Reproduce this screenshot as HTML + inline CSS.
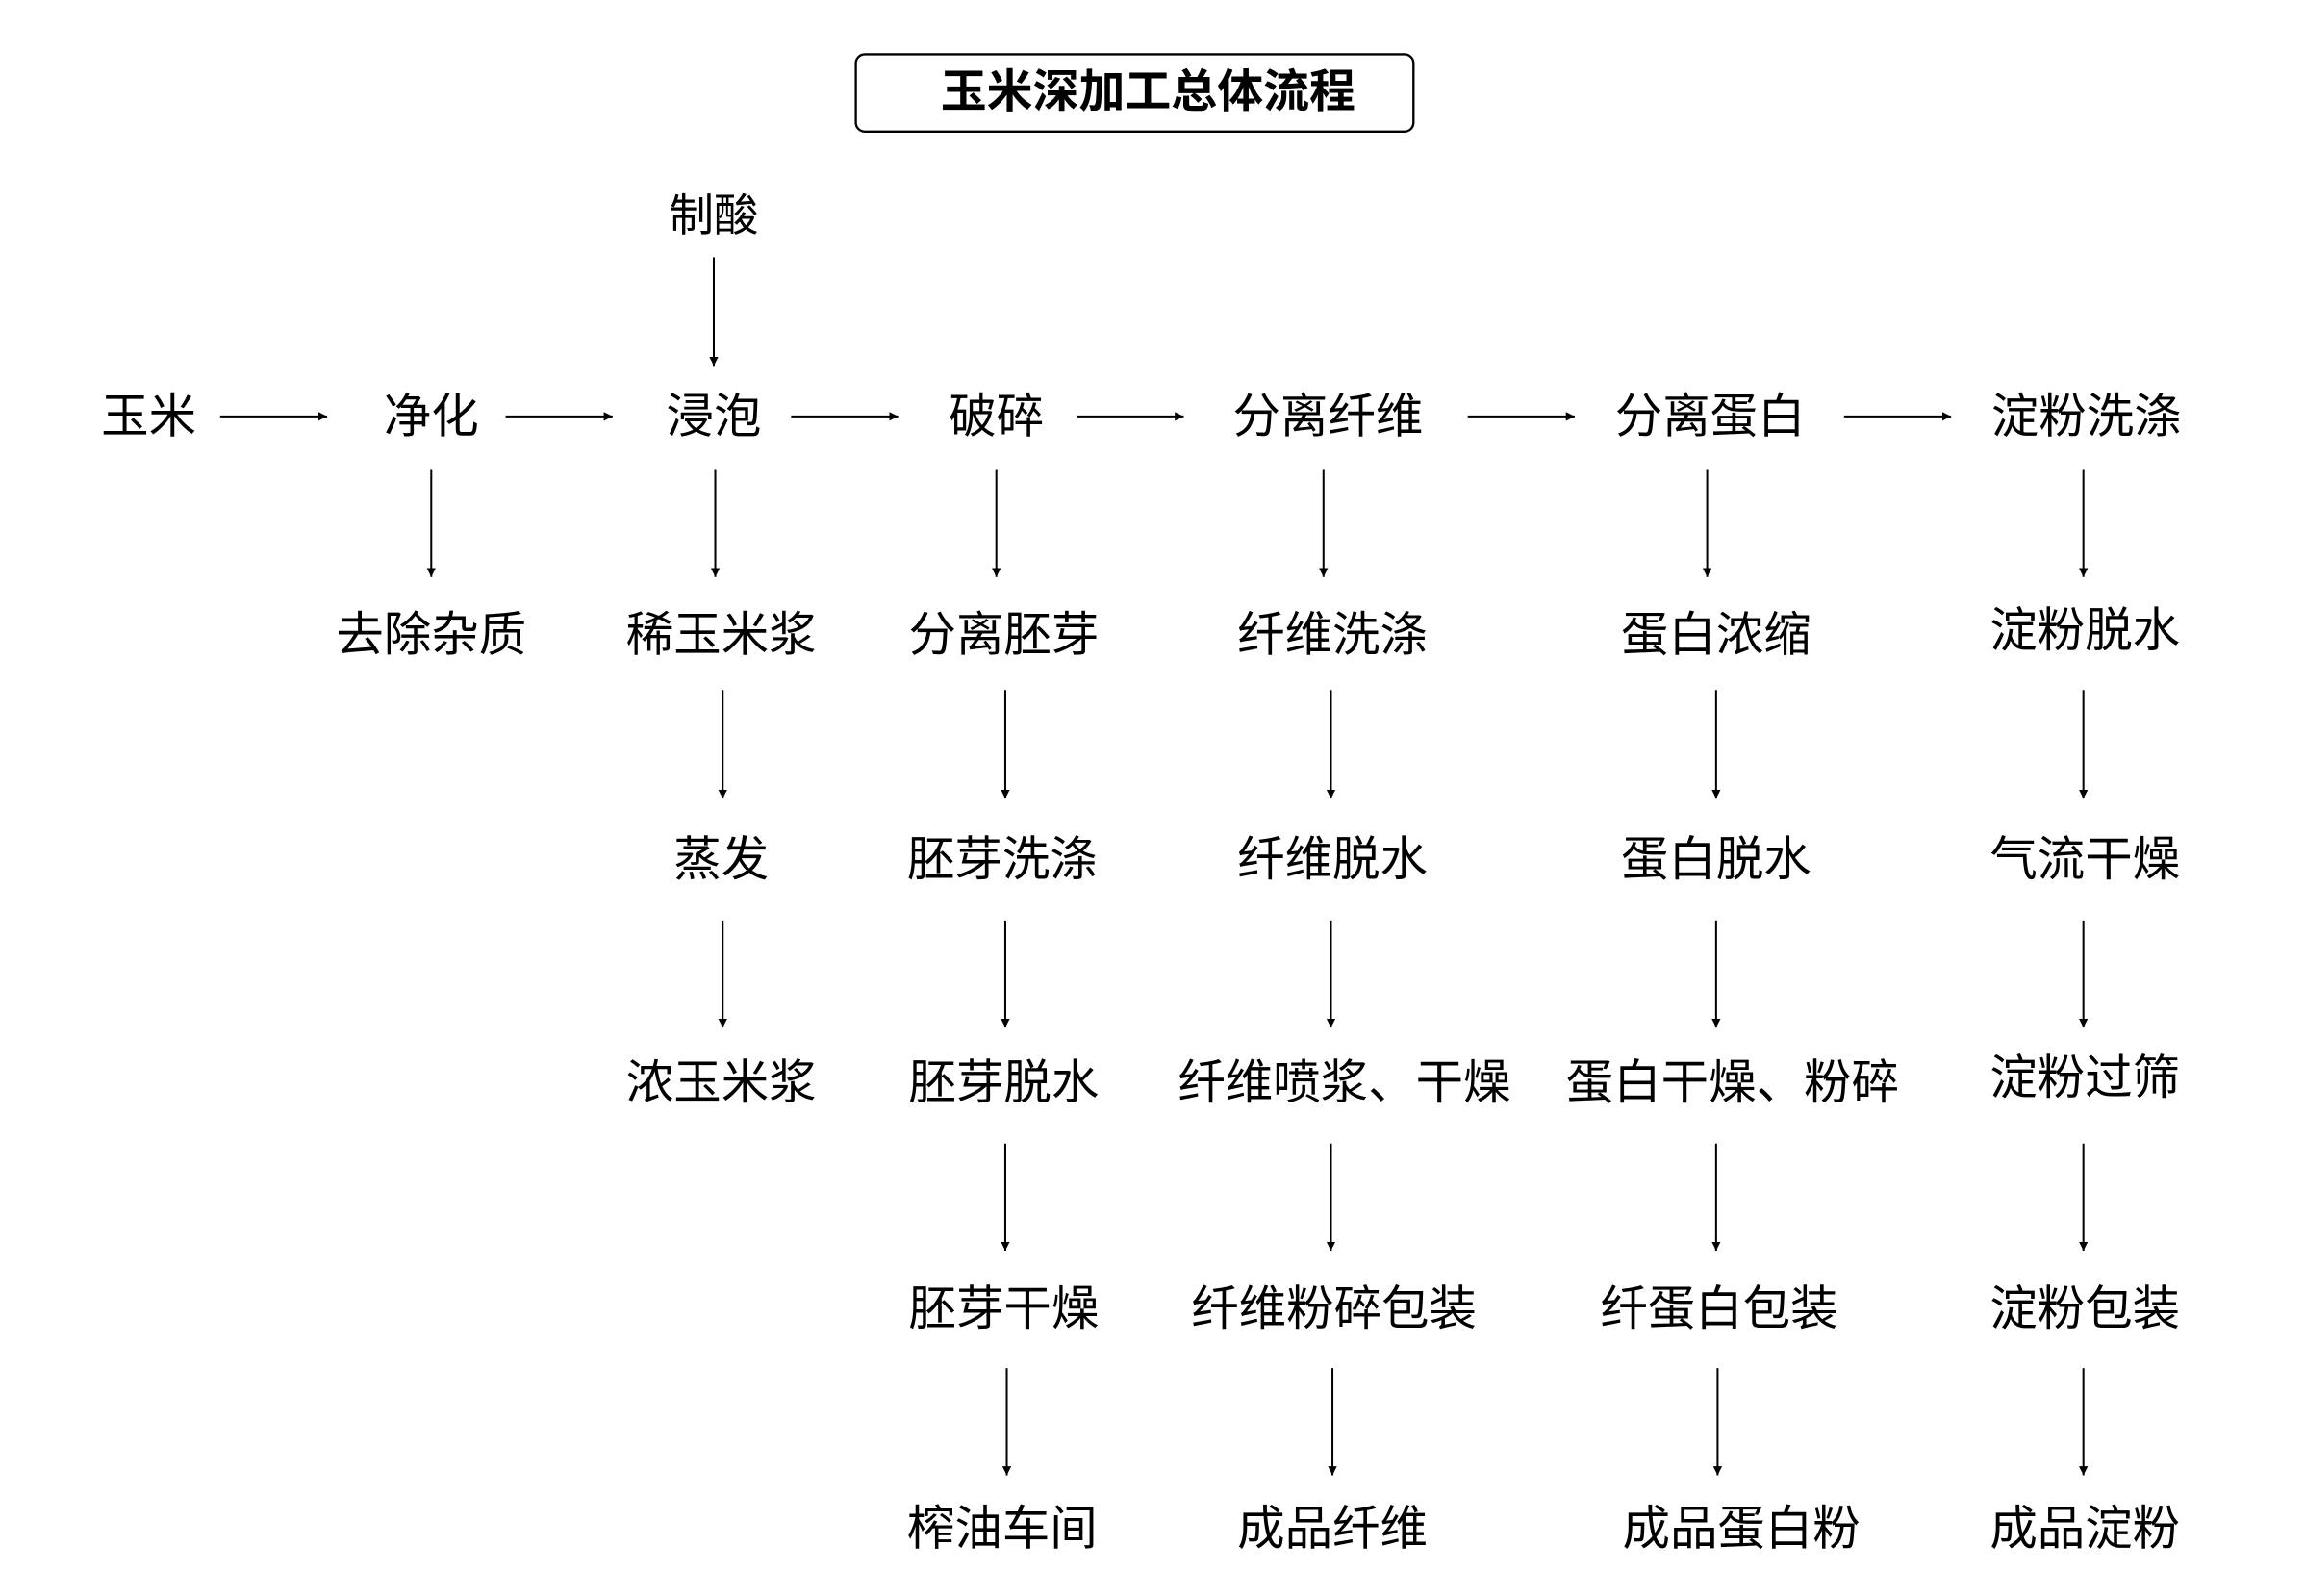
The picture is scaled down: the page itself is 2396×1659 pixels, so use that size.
<!DOCTYPE html>
<html><head><meta charset="utf-8"><style>
html,body{margin:0;padding:0;background:#fff;}
svg{display:block;}
text{font-family:"Liberation Sans","Noto Sans CJK SC",sans-serif;font-size:32px;fill:#000;text-anchor:middle;dominant-baseline:central;}
</style></head><body>
<svg width="2396" height="1659" viewBox="0 0 1550 1073.2" xmlns="http://www.w3.org/2000/svg">
<defs><marker id="a" markerWidth="8" markerHeight="8" refX="6" refY="3" orient="auto" markerUnits="userSpaceOnUse"><path d="M0,0 L6,3 L0,6 Z" fill="#000"/></marker></defs>
<rect x="575.5" y="36.5" width="375" height="52" rx="6" fill="none" stroke="#000" stroke-width="1.5"/>
<text x="772" y="62" style="font-weight:bold;font-size:31px">玉米深加工总体流程</text>
<text x="480" y="145" style="font-size:30px">制酸</text>
<g stroke="#000" stroke-width="1.3" marker-end="url(#a)">
<line x1="480" y1="173" x2="480" y2="246"/>
<line x1="148" y1="280" x2="220" y2="280"/>
<line x1="340" y1="280" x2="412" y2="280"/>
<line x1="532" y1="280" x2="604" y2="280"/>
<line x1="724" y1="280" x2="796" y2="280"/>
<line x1="987" y1="280" x2="1059" y2="280"/>
<line x1="1240" y1="280" x2="1312" y2="280"/>
<line x1="290" y1="316" x2="290" y2="388"/>
<line x1="481" y1="316" x2="481" y2="388"/>
<line x1="670" y1="316" x2="670" y2="388"/>
<line x1="890" y1="316" x2="890" y2="388"/>
<line x1="1148" y1="316" x2="1148" y2="388"/>
<line x1="1401" y1="316" x2="1401" y2="388"/>
<line x1="486" y1="464" x2="486" y2="537"/>
<line x1="676" y1="464" x2="676" y2="537"/>
<line x1="895" y1="464" x2="895" y2="537"/>
<line x1="1154" y1="464" x2="1154" y2="537"/>
<line x1="1401" y1="464" x2="1401" y2="537"/>
<line x1="486" y1="619" x2="486" y2="691"/>
<line x1="676" y1="619" x2="676" y2="691"/>
<line x1="895" y1="619" x2="895" y2="691"/>
<line x1="1154" y1="619" x2="1154" y2="691"/>
<line x1="1401" y1="619" x2="1401" y2="691"/>
<line x1="676" y1="769" x2="676" y2="841"/>
<line x1="895" y1="769" x2="895" y2="841"/>
<line x1="1154" y1="769" x2="1154" y2="841"/>
<line x1="1401" y1="769" x2="1401" y2="841"/>
<line x1="677" y1="920" x2="677" y2="992"/>
<line x1="896" y1="920" x2="896" y2="992"/>
<line x1="1155" y1="920" x2="1155" y2="992"/>
<line x1="1401" y1="920" x2="1401" y2="992"/>
</g>
<text x="100" y="280">玉米</text>
<text x="290" y="280">净化</text>
<text x="480" y="280">浸泡</text>
<text x="670" y="280">破碎</text>
<text x="893" y="280">分离纤维</text>
<text x="1150" y="280">分离蛋白</text>
<text x="1403" y="280">淀粉洗涤</text>
<text x="290" y="427">去除杂质</text>
<text x="485" y="427">稀玉米浆</text>
<text x="675" y="427">分离胚芽</text>
<text x="896" y="427">纤维洗涤</text>
<text x="1154" y="427">蛋白浓缩</text>
<text x="1402" y="424">淀粉脱水</text>
<text x="485" y="578">蒸发</text>
<text x="674" y="578">胚芽洗涤</text>
<text x="896" y="578">纤维脱水</text>
<text x="1154" y="578">蛋白脱水</text>
<text x="1402" y="578">气流干燥</text>
<text x="485" y="728">浓玉米浆</text>
<text x="675" y="728">胚芽脱水</text>
<text x="904" y="728">纤维喷浆、干燥</text>
<text x="1165" y="728">蛋白干燥、粉碎</text>
<text x="1402" y="725">淀粉过筛</text>
<text x="675" y="880">胚芽干燥</text>
<text x="897" y="880">纤维粉碎包装</text>
<text x="1156" y="880">纤蛋白包装</text>
<text x="1402" y="880">淀粉包装</text>
<text x="674" y="1028">榨油车间</text>
<text x="896" y="1028">成品纤维</text>
<text x="1171" y="1028">成品蛋白粉</text>
<text x="1402" y="1028">成品淀粉</text>
</svg>
</body></html>
